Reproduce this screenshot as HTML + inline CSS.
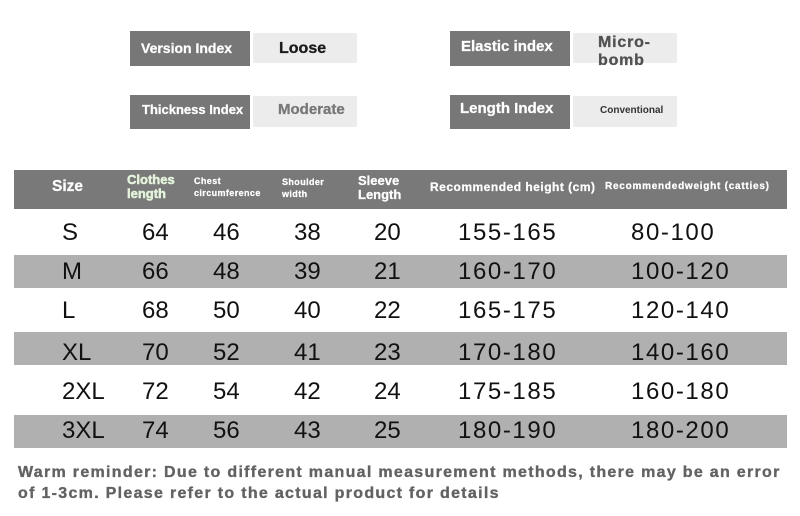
<!DOCTYPE html>
<html>
<head>
<meta charset="utf-8">
<style>
  html,body{margin:0;padding:0;background:#fff;}
  body{width:800px;height:516px;position:relative;overflow:hidden;font-family:"Liberation Sans",Arial,sans-serif;}
  .a{position:absolute;white-space:nowrap;}
  .dk{position:absolute;background:#777777;}
  .lt{position:absolute;background:#ececec;}
  .w{color:#fff;font-weight:bold;-webkit-text-stroke:0.25px #fff;}
  .bar{position:absolute;left:14px;width:773px;}
  .d{position:absolute;font-size:24px;color:#111;height:30px;line-height:30px;white-space:nowrap;}
  .r{letter-spacing:1.6px;}
  .ft{position:absolute;left:18px;font-size:16px;line-height:20px;font-weight:bold;color:#626262;letter-spacing:1.3px;white-space:nowrap;-webkit-text-stroke:0.35px #626262;}
</style>
</head>
<body>
<!-- top index boxes -->
<div class="dk" style="left:130px;top:31px;width:120px;height:35px;"></div>
<div class="lt" style="left:253px;top:33px;width:104px;height:30px;"></div>
<div class="a w" style="left:141px;top:38px;font-size:14px;line-height:20px;">Version Index</div>
<div class="a" style="left:279px;top:39px;font-size:16px;line-height:20px;font-weight:bold;color:#1a1a1a;-webkit-text-stroke:0.3px #1a1a1a;">Loose</div>

<div class="dk" style="left:130px;top:95px;width:120px;height:34px;"></div>
<div class="lt" style="left:253px;top:96px;width:104px;height:31px;"></div>
<div class="a w" style="left:142px;top:100px;font-size:13px;line-height:20px;">Thickness Index</div>
<div class="a" style="left:278px;top:100px;font-size:15px;line-height:20px;font-weight:bold;color:#777;-webkit-text-stroke:0.3px #777;">Moderate</div>

<div class="dk" style="left:450px;top:31px;width:120px;height:35px;"></div>
<div class="lt" style="left:573px;top:33px;width:104px;height:30px;"></div>
<div class="a w" style="left:461px;top:37px;font-size:15px;line-height:20px;">Elastic index</div>
<div class="a" style="left:598px;top:34px;font-size:16px;line-height:18px;font-weight:bold;color:#505050;letter-spacing:0.8px;-webkit-text-stroke:0.3px #505050;">Micro-<br>bomb</div>

<div class="dk" style="left:450px;top:95px;width:120px;height:34px;"></div>
<div class="lt" style="left:573px;top:96px;width:104px;height:31px;"></div>
<div class="a w" style="left:460px;top:99px;font-size:15px;line-height:20px;">Length Index</div>
<div class="a" style="left:600px;top:104px;font-size:10px;line-height:14px;font-weight:bold;color:#333;">Conventional</div>

<!-- header bar -->
<div class="bar" style="top:170px;height:39px;background:#797979;"></div>
<div class="a w" style="left:52px;top:177px;font-size:15.5px;line-height:20px;">Size</div>
<div class="a" style="left:127px;top:173px;font-size:13px;line-height:14px;font-weight:900;color:#e4f4dc;-webkit-text-stroke:0.5px #e4f4dc;">Clothes<br>length</div>
<div class="a w" style="left:194px;top:175px;font-size:9px;line-height:12px;letter-spacing:0.4px;">Chest<br>circumference</div>
<div class="a w" style="left:282px;top:176px;font-size:9px;line-height:12px;letter-spacing:0.4px;">Shoulder<br>width</div>
<div class="a w" style="left:358px;top:174px;font-size:13px;line-height:14px;">Sleeve<br>Length</div>
<div class="a w" style="left:430px;top:179px;font-size:12px;line-height:16px;letter-spacing:0.5px;">Recommended height (cm)</div>
<div class="a w" style="left:605px;top:180px;font-size:10px;line-height:14px;letter-spacing:0.75px;">Recommendedweight (catties)</div>

<!-- gray rows -->
<div class="bar" style="top:255px;height:33px;background:#b0b0b0;"></div>
<div class="bar" style="top:332px;height:33px;background:#b0b0b0;"></div>
<div class="bar" style="top:415px;height:33px;background:#b0b0b0;"></div>

<!-- rows -->
<div class="d" style="left:62px;top:218px;">S</div>
<div class="d" style="left:142px;top:218px;">64</div>
<div class="d" style="left:213px;top:218px;">46</div>
<div class="d" style="left:294px;top:218px;">38</div>
<div class="d" style="left:374px;top:218px;">20</div>
<div class="d r" style="left:458px;top:218px;">155-165</div>
<div class="d r" style="left:631px;top:218px;">80-100</div>

<div class="d" style="left:62px;top:257px;">M</div>
<div class="d" style="left:142px;top:257px;">66</div>
<div class="d" style="left:213px;top:257px;">48</div>
<div class="d" style="left:294px;top:257px;">39</div>
<div class="d" style="left:374px;top:257px;">21</div>
<div class="d r" style="left:458px;top:257px;">160-170</div>
<div class="d r" style="left:631px;top:257px;">100-120</div>

<div class="d" style="left:62px;top:296px;">L</div>
<div class="d" style="left:142px;top:296px;">68</div>
<div class="d" style="left:213px;top:296px;">50</div>
<div class="d" style="left:294px;top:296px;">40</div>
<div class="d" style="left:374px;top:296px;">22</div>
<div class="d r" style="left:458px;top:296px;">165-175</div>
<div class="d r" style="left:631px;top:296px;">120-140</div>

<div class="d" style="left:62px;top:338px;">XL</div>
<div class="d" style="left:142px;top:338px;">70</div>
<div class="d" style="left:213px;top:338px;">52</div>
<div class="d" style="left:294px;top:338px;">41</div>
<div class="d" style="left:374px;top:338px;">23</div>
<div class="d r" style="left:458px;top:338px;">170-180</div>
<div class="d r" style="left:631px;top:338px;">140-160</div>

<div class="d" style="left:62px;top:377px;">2XL</div>
<div class="d" style="left:142px;top:377px;">72</div>
<div class="d" style="left:213px;top:377px;">54</div>
<div class="d" style="left:294px;top:377px;">42</div>
<div class="d" style="left:374px;top:377px;">24</div>
<div class="d r" style="left:458px;top:377px;">175-185</div>
<div class="d r" style="left:631px;top:377px;">160-180</div>

<div class="d" style="left:62px;top:416px;">3XL</div>
<div class="d" style="left:142px;top:416px;">74</div>
<div class="d" style="left:213px;top:416px;">56</div>
<div class="d" style="left:294px;top:416px;">43</div>
<div class="d" style="left:374px;top:416px;">25</div>
<div class="d r" style="left:458px;top:416px;">180-190</div>
<div class="d r" style="left:631px;top:416px;">180-200</div>

<!-- footer -->
<div class="ft" style="top:463px;">Warm reminder: Due to different manual measurement methods, there may be an error</div>
<div class="ft" style="top:484px;">of 1-3cm. Please refer to the actual product for details</div>
</body>
</html>
